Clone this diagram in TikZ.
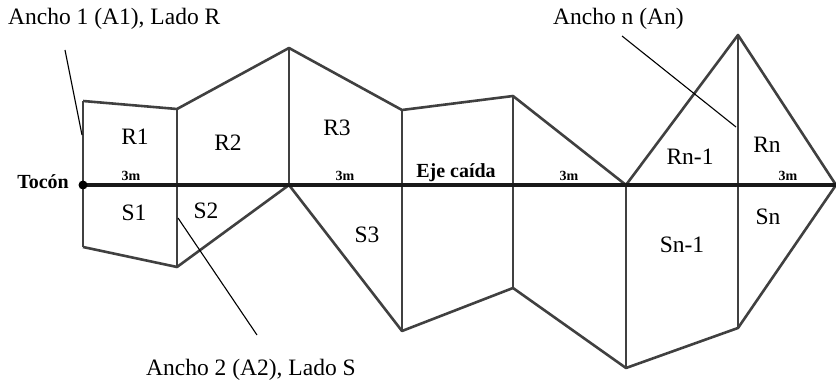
\documentclass[tikz,border=0pt]{standalone}
\usepackage{fontspec}
\setmainfont{Liberation Serif}
\usepackage{tikz}

\begin{document}
\begin{tikzpicture}[
	x=1pt, y=-1pt,
	every node/.style={inner sep=0pt, font=\fontsize{23.5}{26}\selectfont},
	strip/.style={draw=black!75, line width=2.6pt, line join=round},
	axis/.style={draw=black!90, line width=4.6pt},
	leader/.style={draw, line width=1.1pt},
	marker/.style={font=\fontsize{14}{16}\selectfont\bfseries},
	title/.style={font=\fontsize{20}{22}\selectfont\bfseries}
	]
	\useasboundingbox (0,0) rectangle (836,382);
	
	% Define points
	\coordinate (a0) at (83,185);
	\coordinate (a1) at (177,185);
	\coordinate (a2) at (289,185);
	\coordinate (a3) at (402,185);
	\coordinate (a4) at (513,185);
	\coordinate (a5) at (626,185);
	\coordinate (a6) at (738,185);
	\coordinate (a7) at (836,185);
	\coordinate (r0) at (83,101);
	\coordinate (r1) at (177,109);
	\coordinate (r2) at (289,48);
	\coordinate (r3) at (402,110);
	\coordinate (r4) at (513,96);
	\coordinate (r6) at (738,35);
	\coordinate (s0) at (83,247);
	\coordinate (s1) at (177,267);
	\coordinate (s3) at (402,331);
	\coordinate (s4) at (513,288);
	\coordinate (s5) at (626,368);
	\coordinate (s6) at (738,328);
	
	% Draw strips
	\path [strip] (r0) -- (r1) -- (r2) -- (r3) -- (r4) -- (a5) -- (r6) -- (a7);
	\path [strip] (s0) -- (s1) -- (a2) -- (s3) -- (s4) -- (s5) -- (s6) -- (a7);
	\path [strip] (r0) -- (s0);
	\path [strip] (r1) -- (s1);
	\path [strip] (r2) -- (a2);
	\path [strip] (r3) -- (s3);
	\path [strip] (r4) -- (s4);
	\path [strip] (a5) -- (s5);
	\path [strip] (r6) -- (s6);
	\path [axis] (a0) -- (a7);
	\fill [black] (a0) circle (4.5);
	
	% Labels
	\node (R1) at (135,137) {R1};
	\node (R2) at (228,143) {R2};
	\node (R3) at (337,128) {R3};
	\node (Rn1) at (690,157) {Rn-1};
	\node (Rn) at (767,145) {Rn};
	\node (S1) at (134,213) {S1};
	\node (S2) at (206,211) {S2};
	\node (S3) at (367,235) {S3};
	\node (Sn1) at (682,245) {Sn-1};
	\node (Sn) at (768,217) {Sn};
	\node [marker, anchor=base] (m1) at (131,181) {3m};
	\node [marker, anchor=base] (m2) at (345,181) {3m};
	\node [marker, anchor=base] (m3) at (569,181) {3m};
	\node [marker, anchor=base] (m4) at (788,181) {3m};
	\node [title, anchor=base] (eje) at (456,178) {Eje caída};
	\node [title, anchor=base east] (tocon) at (69,189) {Tocón};
	
	% Leaders
	\node [anchor=base west] (ancho1) at (8,25) {Ancho 1 (A1), Lado R};
	\node [anchor=base west] (ancho2) at (146,375) {Ancho 2 (A2), Lado S};
	\node [anchor=base west] (anchon) at (553,25) {Ancho n (An)};
	\coordinate (q1) at (65,50);
	\coordinate (q2) at (257,335);
	\coordinate (qn) at (622,36);
	\coordinate (p1) at (82,135);
	\coordinate (p2) at (178,218);
	\coordinate (pn) at (736,127);
	\path [leader] (q1) -- (p1);
	\path [leader] (q2) -- (p2);
	\path [leader] (qn) -- (pn);
	
\end{tikzpicture}
\end{document}
